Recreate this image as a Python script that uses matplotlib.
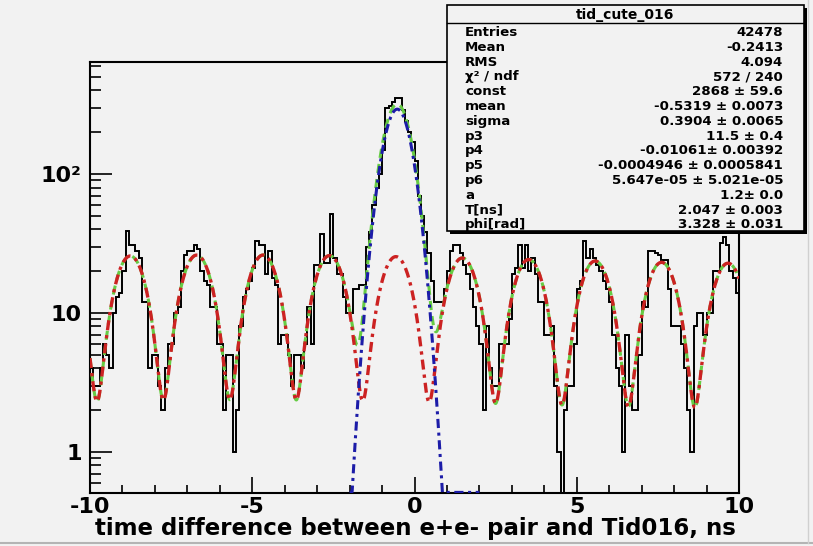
import numpy as np
import matplotlib.pyplot as plt
from matplotlib.ticker import FixedLocator, MultipleLocator, NullFormatter

plt.rcParams['font.family'] = ['DejaVu Sans']
plt.rcParams['axes.unicode_minus'] = False

# histogram contents: 200 bins of 0.1 ns between -10 and 10 ns
counts = [
    4, 3, 3, 4, 6, 5, 4, 10, 13, 14,
    20, 39, 31, 31, 28, 25, 12, 12, 4, 5,
    5, 3, 2, 4, 6, 6, 10, 11, 20, 26,
    28, 28, 31, 29, 20, 17, 16, 11, 11, 6,
    6, 2, 5, 5, 1, 2, 8, 13, 15, 17,
    21, 33, 31, 31, 19, 28, 18, 16, 6, 7,
    7, 5, 3, 5, 5, 4, 6, 11, 6, 22,
    22, 37, 23, 23, 52, 25, 19, 19, 13, 10,
    10, 15, 15, 16, 16, 30, 38, 60, 80, 100,
    150, 300, 310, 330, 350, 350, 290, 240, 200, 170,
    125, 70, 50, 38, 27, 17, 12, 12, 12, 15,
    20, 28, 31, 31, 27, 22, 19, 15, 11, 8,
    6, 2, 8, 4, 3, 3, 6, 6, 6, 9,
    19, 21, 31, 21, 31, 20, 25, 19, 12, 12,
    7, 7, 8, 3, 1, 0, 2, 3, 3, 6,
    15, 17, 33, 25, 29, 25, 22, 20, 17, 15,
    12, 7, 4, 3, 1, 7, 3, 2, 2, 5,
    12, 11, 28, 28, 27, 26, 24, 24, 15, 8,
    8, 8, 6, 4, 2, 1, 8, 10, 10, 7,
    10, 10, 20, 20, 32, 35, 31, 20, 18, 14,
]
x_lo, x_hi = -10.0, 10.0

# fit parameters (gaus + oscillating background)
const, mean, sigma = 2868.0, -0.5319, 0.3904
p3, p4, p5, p6 = 11.5, -0.01061, -0.0004946, 5.647e-05
a, T, phi = 1.2, 2.047, 3.328

stat_title = 'tid_cute_016'
stat_names = ['Entries', 'Mean', 'RMS', '\u03c7\u00b2 / ndf', 'const', 'mean', 'sigma',
              'p3', 'p4', 'p5', 'p6', 'a', 'T[ns]', 'phi[rad]']
stat_values = ['42478', '-0.2413', '4.094', '572 / 240', '2868 \u00b1 59.6',
               '-0.5319 \u00b1 0.0073', '0.3904 \u00b1 0.0065', '11.5 \u00b1 0.4',
               '-0.01061\u00b1 0.00392', '-0.0004946 \u00b1 0.0005841',
               '5.647e-05 \u00b1 5.021e-05', '1.2\u00b1 0.0', '2.047 \u00b1 0.003',
               '3.328 \u00b1 0.031']

xlabel = 'time difference between e+e- pair and Tid016, ns'

bg_col = '#f2f2f2'
W, H = 813, 546
fig = plt.figure(figsize=(W / 100, H / 100), dpi=100, facecolor=bg_col)
ax = fig.add_axes([90 / W, 1 - 493 / H, (739 - 90) / W, (493 - 62) / H])
ax.set_facecolor(bg_col)

edges = np.linspace(x_lo, x_hi, len(counts) + 1)
bin_w = edges[1] - edges[0]
ymin, ymax = 0.507, 640

ax.stairs(counts, edges, baseline=None, color='black', lw=1.4, zorder=3)

# fit components
t = np.linspace(x_lo, x_hi, 2001)
gauss = const * bin_w / (np.sqrt(2 * np.pi) * sigma) * np.exp(-0.5 * ((t - mean) / sigma) ** 2)
poly = 1 + p4 * t + p5 * t ** 2 + p6 * t ** 3
bkg = p3 * (a + np.sin(2 * np.pi * t / T + phi)) * poly
total = gauss + bkg

ax.plot(t, total, color='#66cc44', lw=2.2, ls=(0, (3, 2)), zorder=4)
ax.plot(t, bkg, color='#cc2222', lw=2.4, ls=(0, (3, 1.5, 1, 1.5)), zorder=5)
sel = (t >= -2) & (t <= 2)
ax.plot(t[sel], np.clip(gauss[sel], ymin * 1.01, None), color='#1c1ca8', lw=2.2,
        ls=(0, (3, 1.5, 1, 1.5)), zorder=6)

ax.set_xlim(x_lo, x_hi)
ax.set_yscale('log')
ax.set_ylim(ymin, ymax)

ax.xaxis.set_major_locator(FixedLocator([-10, -5, 0, 5, 10]))
ax.set_xticklabels(['-10', '-5', '0', '5', '10'])
ax.xaxis.set_minor_locator(MultipleLocator(1))
ax.yaxis.set_major_locator(FixedLocator([1, 10, 100]))
ax.set_yticklabels(['1', '10', '10\u00b2'])
minor_y = [m * 10.0 ** e for e in (-1, 0, 1, 2) for m in range(2, 10)]
ax.yaxis.set_minor_locator(FixedLocator(minor_y))
ax.yaxis.set_minor_formatter(NullFormatter())

ax.tick_params(axis='x', which='major', direction='in', length=11.5, width=1.2,
               labelsize=16, pad=3, top=False)
ax.tick_params(axis='x', which='minor', direction='in', length=5.8, width=1.2, top=False)
ax.tick_params(axis='y', which='major', direction='in', length=16, width=1.2,
               labelsize=16, pad=6, right=False)
ax.tick_params(axis='y', which='minor', direction='in', length=8, width=1.2, right=False)
for lab in ax.get_xticklabels() + ax.get_yticklabels():
    lab.set_fontweight('bold')
for sp in ax.spines.values():
    sp.set_linewidth(1.5)

ax.set_xlabel(xlabel, fontsize=16.5, fontweight='bold', ha='right')
ax.xaxis.set_label_coords(1 - 3 / 649, -0.056)

# stat box drawn in pixel coordinates on an overlay
ov = fig.add_axes([0, 0, 1, 1], zorder=10)
ov.set_xlim(0, W)
ov.set_ylim(H, 0)
ov.axis('off')
bx0, bx1, by0, by1 = 447, 804, 5, 231
ov.add_patch(plt.Rectangle((bx0 + 3, by0 + 3), bx1 - bx0, by1 - by0, color='black', lw=0))
ov.add_patch(plt.Rectangle((bx0, by0), bx1 - bx0, by1 - by0, facecolor=bg_col,
                           edgecolor='black', lw=1.2))
ov.plot([bx0, bx1], [23, 23], color='black', lw=1.0)
ov.text((bx0 + bx1) / 2, 14.5, stat_title, ha='center', va='center', fontsize=10,
        fontweight='bold')
for i, (name, val) in enumerate(zip(stat_names, stat_values)):
    y = 32.5 + i * 14.8
    ov.text(465, y, name, ha='left', va='center', fontsize=9.6, fontweight='bold')
    ov.text(783, y, val, ha='right', va='center', fontsize=9.6, fontweight='bold')

# canvas bevel on bottom and right
ov.plot([0, W], [543, 543], color='#b4b4b4', lw=1.5)
ov.plot([808, 808], [0, 543], color='#d0d0d0', lw=1.0)

fig.savefig('out.png', dpi=100, facecolor=bg_col)
